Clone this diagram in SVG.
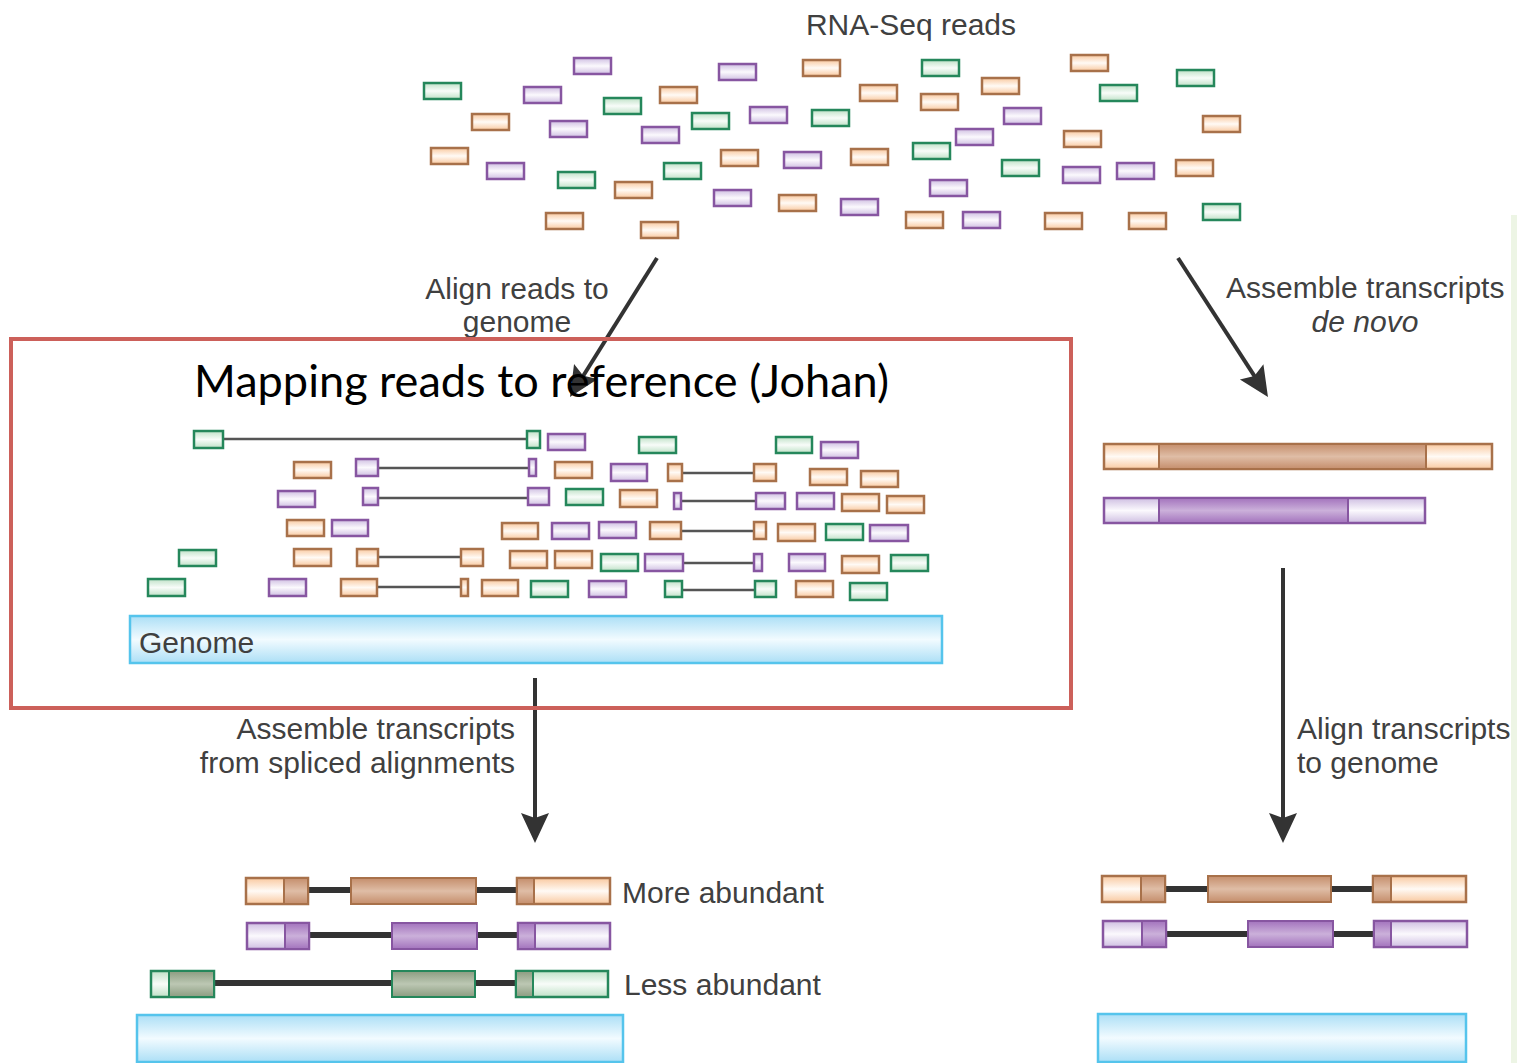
<svg xmlns="http://www.w3.org/2000/svg" width="1517" height="1063" viewBox="0 0 1517 1063">
<defs>
<linearGradient id="gO" x1="0" y1="0" x2="0" y2="1"><stop offset="0" stop-color="#f9c9a0"/><stop offset="0.5" stop-color="#fffaf5"/><stop offset="1" stop-color="#f9c9a0"/></linearGradient>
<linearGradient id="gP" x1="0" y1="0" x2="0" y2="1"><stop offset="0" stop-color="#cfbfe2"/><stop offset="0.5" stop-color="#fbf9fd"/><stop offset="1" stop-color="#cfbfe2"/></linearGradient>
<linearGradient id="gG" x1="0" y1="0" x2="0" y2="1"><stop offset="0" stop-color="#bfe1c7"/><stop offset="0.5" stop-color="#f8fcf9"/><stop offset="1" stop-color="#bfe1c7"/></linearGradient>
<linearGradient id="dO" x1="0" y1="0" x2="0" y2="1"><stop offset="0" stop-color="#c58e6c"/><stop offset="0.5" stop-color="#dfbda6"/><stop offset="1" stop-color="#c58e6c"/></linearGradient>
<linearGradient id="dP" x1="0" y1="0" x2="0" y2="1"><stop offset="0" stop-color="#a373bd"/><stop offset="0.5" stop-color="#cbb0da"/><stop offset="1" stop-color="#a373bd"/></linearGradient>
<linearGradient id="dG" x1="0" y1="0" x2="0" y2="1"><stop offset="0" stop-color="#8b9c80"/><stop offset="0.5" stop-color="#bcc7b3"/><stop offset="1" stop-color="#8b9c80"/></linearGradient>
<linearGradient id="gB" x1="0" y1="0" x2="0" y2="1"><stop offset="0" stop-color="#acdff6"/><stop offset="0.5" stop-color="#f2fbff"/><stop offset="1" stop-color="#acdff6"/></linearGradient>
<marker id="ah" markerUnits="userSpaceOnUse" markerWidth="32" markerHeight="30" refX="10" refY="14" orient="auto" viewBox="0 0 32 28">
<path d="M0,0 L30,14 L0,28 L5,14 z" fill="#333"/>
</marker>
</defs>
<style>
.o{fill:url(#gO);stroke:#a8714a;stroke-width:2.5}
.p{fill:url(#gP);stroke:#8756a1;stroke-width:2.5}
.g{fill:url(#gG);stroke:#25875b;stroke-width:2.5}
.od{fill:url(#dO);stroke:#a8714a;stroke-width:2}
.pd{fill:url(#dP);stroke:#8756a1;stroke-width:2}
.gd{fill:url(#dG);stroke:#25875b;stroke-width:2}
.intr{stroke:#555;stroke-width:2.5;fill:none}
.thick{stroke:#333;stroke-width:6;fill:none}
.gen{fill:url(#gB);stroke:#55c4ec;stroke-width:2.5}
.lbl{font-family:"Liberation Sans",Arial,sans-serif;font-size:30px;fill:#404040}
.arr{stroke:#333;stroke-width:4;fill:none;marker-end:url(#ah)}
</style>
<rect x="0" y="0" width="1517" height="1063" fill="#ffffff"/>
<rect x="1511" y="215" width="6" height="848" fill="#edf5e5"/>

<g id="label-rnaseq"><text class="lbl" x="911" y="35" text-anchor="middle">RNA-Seq reads</text></g>

<g id="rnaseq-reads">
<rect class="p" x="574" y="58" width="37" height="16"/>
<rect class="p" x="719" y="64" width="37" height="16"/>
<rect class="o" x="803" y="60" width="37" height="16"/>
<rect class="g" x="922" y="60" width="37" height="16"/>
<rect class="o" x="1071" y="55" width="37" height="16"/>
<rect class="g" x="424" y="83" width="37" height="16"/>
<rect class="p" x="524" y="87" width="37" height="16"/>
<rect class="g" x="604" y="98" width="37" height="16"/>
<rect class="o" x="660" y="87" width="37" height="16"/>
<rect class="o" x="860" y="85" width="37" height="16"/>
<rect class="o" x="982" y="78" width="37" height="16"/>
<rect class="g" x="1177" y="70" width="37" height="16"/>
<rect class="o" x="921" y="94" width="37" height="16"/>
<rect class="g" x="1100" y="85" width="37" height="16"/>
<rect class="o" x="472" y="114" width="37" height="16"/>
<rect class="p" x="550" y="121" width="37" height="16"/>
<rect class="p" x="642" y="127" width="37" height="16"/>
<rect class="g" x="692" y="113" width="37" height="16"/>
<rect class="g" x="812" y="110" width="37" height="16"/>
<rect class="p" x="750" y="107" width="37" height="16"/>
<rect class="p" x="1004" y="108" width="37" height="16"/>
<rect class="p" x="956" y="129" width="37" height="16"/>
<rect class="o" x="1064" y="131" width="37" height="16"/>
<rect class="o" x="1203" y="116" width="37" height="16"/>
<rect class="o" x="431" y="148" width="37" height="16"/>
<rect class="p" x="487" y="163" width="37" height="16"/>
<rect class="g" x="558" y="172" width="37" height="16"/>
<rect class="o" x="615" y="182" width="37" height="16"/>
<rect class="g" x="664" y="163" width="37" height="16"/>
<rect class="o" x="721" y="150" width="37" height="16"/>
<rect class="p" x="784" y="152" width="37" height="16"/>
<rect class="o" x="851" y="149" width="37" height="16"/>
<rect class="g" x="913" y="143" width="37" height="16"/>
<rect class="g" x="1002" y="160" width="37" height="16"/>
<rect class="p" x="1063" y="167" width="37" height="16"/>
<rect class="p" x="1117" y="163" width="37" height="16"/>
<rect class="o" x="1176" y="160" width="37" height="16"/>
<rect class="p" x="930" y="180" width="37" height="16"/>
<rect class="p" x="714" y="190" width="37" height="16"/>
<rect class="o" x="779" y="195" width="37" height="16"/>
<rect class="p" x="841" y="199" width="37" height="16"/>
<rect class="o" x="546" y="213" width="37" height="16"/>
<rect class="o" x="641" y="222" width="37" height="16"/>
<rect class="o" x="906" y="212" width="37" height="16"/>
<rect class="p" x="963" y="212" width="37" height="16"/>
<rect class="o" x="1045" y="213" width="37" height="16"/>
<rect class="o" x="1129" y="213" width="37" height="16"/>
<rect class="g" x="1203" y="204" width="37" height="16"/>
</g>

<g id="connectors">
<line class="arr" x1="657" y1="258" x2="580.6" y2="380"/>
<line class="arr" x1="1178" y1="258" x2="1257.1" y2="380.2"/>
<line class="arr" x1="535" y1="678" x2="535" y2="823"/>
<line class="arr" x1="1283" y1="568" x2="1283" y2="823"/>
</g>

<g id="label-align-reads">
<text class="lbl" x="517" y="299" text-anchor="middle">Align reads to</text>
<text class="lbl" x="517" y="332" text-anchor="middle">genome</text>
</g>
<g id="label-denovo">
<text class="lbl" x="1226" y="298">Assemble transcripts</text>
<text class="lbl" x="1365" y="332" text-anchor="middle" font-style="italic">de novo</text>
</g>

<g id="mapped-reads">
<line class="intr" x1="224" y1="439" x2="527" y2="439"/>
<rect class="g" x="194" y="431" width="29" height="17"/>
<rect class="g" x="527" y="431" width="13" height="17"/>
<rect class="p" x="548" y="434" width="37" height="16"/>
<rect class="g" x="639" y="437" width="37" height="16"/>
<rect class="g" x="776" y="437" width="36" height="16"/>
<rect class="p" x="821" y="442" width="37" height="16"/>

<line class="intr" x1="379" y1="468" x2="529" y2="468"/>
<rect class="o" x="294" y="462" width="37" height="16"/>
<rect class="p" x="356" y="459" width="22" height="17"/>
<rect class="p" x="529" y="459" width="7" height="17"/>
<rect class="o" x="555" y="462" width="37" height="16"/>
<rect class="p" x="611" y="464" width="36" height="17"/>
<line class="intr" x1="683" y1="473" x2="754" y2="473"/>
<rect class="o" x="668" y="464" width="14" height="17"/>
<rect class="o" x="754" y="464" width="22" height="17"/>
<rect class="o" x="810" y="469" width="37" height="16"/>
<rect class="o" x="861" y="471" width="37" height="16"/>

<line class="intr" x1="379" y1="498" x2="528" y2="498"/>
<rect class="p" x="278" y="491" width="37" height="16"/>
<rect class="p" x="363" y="488" width="15" height="17"/>
<rect class="p" x="528" y="488" width="21" height="17"/>
<rect class="g" x="566" y="489" width="37" height="16"/>
<rect class="o" x="620" y="490" width="37" height="17"/>
<line class="intr" x1="682" y1="501" x2="756" y2="501"/>
<rect class="p" x="674" y="493" width="7" height="16"/>
<rect class="p" x="756" y="493" width="29" height="16"/>
<rect class="p" x="797" y="493" width="37" height="16"/>
<rect class="o" x="842" y="494" width="37" height="17"/>
<rect class="o" x="887" y="496" width="37" height="17"/>

<rect class="o" x="287" y="520" width="37" height="16"/>
<rect class="p" x="332" y="520" width="36" height="16"/>
<rect class="o" x="502" y="523" width="36" height="16"/>
<rect class="p" x="552" y="523" width="37" height="16"/>
<rect class="p" x="599" y="522" width="37" height="16"/>
<line class="intr" x1="682" y1="531" x2="754" y2="531"/>
<rect class="o" x="650" y="522" width="31" height="17"/>
<rect class="o" x="754" y="522" width="12" height="17"/>
<rect class="o" x="778" y="524" width="37" height="17"/>
<rect class="g" x="826" y="524" width="37" height="16"/>
<rect class="p" x="870" y="525" width="38" height="16"/>

<rect class="g" x="179" y="550" width="37" height="16"/>
<rect class="o" x="294" y="549" width="37" height="17"/>
<line class="intr" x1="379" y1="557" x2="461" y2="557"/>
<rect class="o" x="357" y="549" width="21" height="17"/>
<rect class="o" x="461" y="549" width="22" height="17"/>
<rect class="o" x="510" y="551" width="37" height="17"/>
<rect class="o" x="555" y="551" width="37" height="17"/>
<rect class="g" x="601" y="554" width="37" height="17"/>
<line class="intr" x1="684" y1="563" x2="754" y2="563"/>
<rect class="p" x="645" y="554" width="38" height="17"/>
<rect class="p" x="754" y="554" width="8" height="17"/>
<rect class="p" x="789" y="554" width="36" height="17"/>
<rect class="o" x="842" y="556" width="37" height="17"/>
<rect class="g" x="891" y="555" width="37" height="16"/>

<rect class="g" x="148" y="579" width="37" height="17"/>
<rect class="p" x="269" y="579" width="37" height="17"/>
<line class="intr" x1="378" y1="587" x2="461" y2="587"/>
<rect class="o" x="341" y="579" width="36" height="17"/>
<rect class="o" x="461" y="579" width="7" height="17"/>
<rect class="o" x="482" y="580" width="36" height="16"/>
<rect class="g" x="531" y="581" width="37" height="16"/>
<rect class="p" x="589" y="581" width="37" height="16"/>
<line class="intr" x1="683" y1="590" x2="755" y2="590"/>
<rect class="g" x="665" y="581" width="17" height="16"/>
<rect class="g" x="755" y="581" width="21" height="16"/>
<rect class="o" x="796" y="581" width="37" height="16"/>
<rect class="g" x="850" y="583" width="37" height="17"/>
</g>

<g id="genome-mid">
<rect class="gen" x="130" y="616" width="812" height="47"/>
<text class="lbl" x="139" y="653">Genome</text>
</g>

<g id="mapping-box">
<rect x="11" y="339" width="1060" height="369" fill="none" stroke="#cc605a" stroke-width="4"/>
<text x="194" y="397" font-family="Lato,'Open Sans',sans-serif" font-size="44" fill="#000" textLength="695" lengthAdjust="spacingAndGlyphs">Mapping reads to reference (Johan)</text>
</g>

<g id="denovo-transcripts">
<rect class="o" x="1104" y="444" width="388" height="25"/>
<rect class="od" x="1159" y="444" width="267" height="25"/>
<rect class="p" x="1104" y="498" width="321" height="25"/>
<rect class="pd" x="1159" y="498" width="189" height="25"/>
</g>

<g id="label-assemble-spliced">
<text class="lbl" x="515" y="739" text-anchor="end">Assemble transcripts</text>
<text class="lbl" x="515" y="773" text-anchor="end">from spliced alignments</text>
</g>
<g id="label-align-transcripts">
<text class="lbl" x="1297" y="739">Align transcripts</text>
<text class="lbl" x="1297" y="773">to genome</text>
</g>

<g id="spliced-transcripts">
<line class="thick" x1="308" y1="890" x2="351" y2="890"/>
<line class="thick" x1="476" y1="890" x2="517" y2="890"/>
<rect class="o" x="246" y="878" width="62" height="26"/>
<rect class="od" x="284" y="878" width="24" height="26"/>
<rect class="od" x="351" y="878" width="125" height="26"/>
<rect class="o" x="517" y="878" width="93" height="26"/>
<rect class="od" x="517" y="878" width="17" height="26"/>

<line class="thick" x1="309" y1="935" x2="392" y2="935"/>
<line class="thick" x1="477" y1="935" x2="518" y2="935"/>
<rect class="p" x="247" y="923" width="62" height="26"/>
<rect class="pd" x="285" y="923" width="24" height="26"/>
<rect class="pd" x="392" y="923" width="85" height="26"/>
<rect class="p" x="518" y="923" width="92" height="26"/>
<rect class="pd" x="518" y="923" width="17" height="26"/>

<line class="thick" x1="214" y1="983" x2="392" y2="983"/>
<line class="thick" x1="475" y1="983" x2="516" y2="983"/>
<rect class="g" x="151" y="971" width="63" height="26"/>
<rect class="gd" x="169" y="971" width="45" height="26"/>
<rect class="gd" x="392" y="971" width="83" height="26"/>
<rect class="g" x="516" y="971" width="92" height="26"/>
<rect class="gd" x="516" y="971" width="17" height="26"/>

<text class="lbl" x="622" y="903">More abundant</text>
<text class="lbl" x="624" y="995">Less abundant</text>
<rect class="gen" x="137" y="1015" width="486" height="47"/>
</g>

<g id="aligned-transcripts">
<line class="thick" x1="1165" y1="889" x2="1208" y2="889"/>
<line class="thick" x1="1331" y1="889" x2="1373" y2="889"/>
<rect class="o" x="1102" y="876" width="63" height="26"/>
<rect class="od" x="1141" y="876" width="24" height="26"/>
<rect class="od" x="1208" y="876" width="123" height="26"/>
<rect class="o" x="1373" y="876" width="93" height="26"/>
<rect class="od" x="1373" y="876" width="18" height="26"/>

<line class="thick" x1="1166" y1="934" x2="1248" y2="934"/>
<line class="thick" x1="1333" y1="934" x2="1374" y2="934"/>
<rect class="p" x="1103" y="921" width="63" height="26"/>
<rect class="pd" x="1142" y="921" width="24" height="26"/>
<rect class="pd" x="1248" y="921" width="85" height="26"/>
<rect class="p" x="1374" y="921" width="93" height="26"/>
<rect class="pd" x="1374" y="921" width="17" height="26"/>

<rect class="gen" x="1098" y="1014" width="368" height="48"/>
</g>
</svg>
